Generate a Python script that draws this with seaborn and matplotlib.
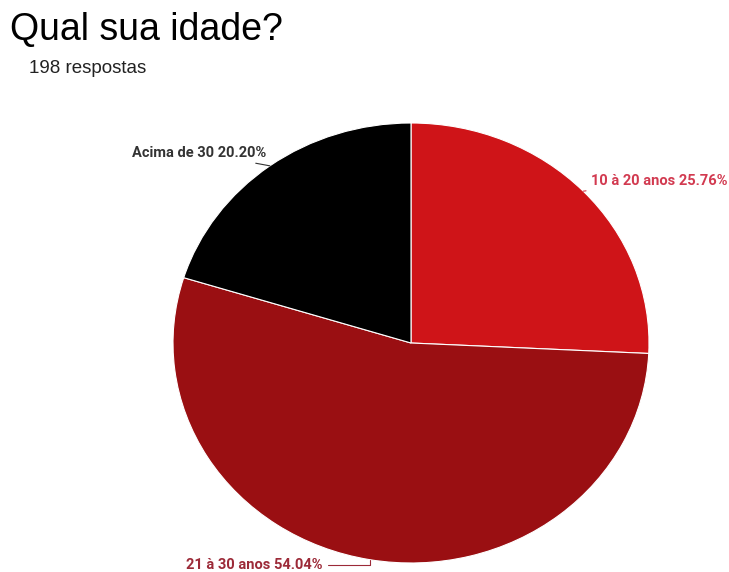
import numpy as np
import matplotlib
matplotlib.use("Agg")
import matplotlib.pyplot as plt
import seaborn as sns

# dados
categorias = ["10 à 20 anos", "21 à 30 anos", "Acima de 30"]
respostas = [51, 107, 40]
cores = ["#cf1418", "#9a0f12", "#000000"]
cores_texto = ["#d23a50", "#9c2a38", "#333333"]
# posição dos rótulos (x, y, alinhamento, conector) em coordenadas do pie
pos_rotulos = [(0.755, 0.735, "left", "arc3"),
               (-0.37, -1.01, "right", "angle,angleA=0,angleB=90,rad=0"),
               (-0.61, 0.865, "right", "arc3")]

sns.set_style("white")
plt.rcParams["font.family"] = ["Liberation Sans", "DejaVu Sans"]

fig = plt.figure(figsize=(7.29, 5.72), dpi=100)
ax = fig.add_axes([173 / 729, 9 / 572, 476 / 729, 440 / 572])

total = sum(respostas)
wedges, _ = ax.pie(respostas, colors=cores, startangle=90, counterclock=False,
                   radius=1.0, wedgeprops=dict(edgecolor="white", linewidth=0.8))
ax.set_aspect("auto")
ax.set_xlim(-1, 1)
ax.set_ylim(-1, 1)
ax.axis("off")

for w, cat, n, cor, (tx, ty, ha, con) in zip(wedges, categorias, respostas, cores_texto, pos_rotulos):
    ang = np.deg2rad((w.theta1 + w.theta2) / 2)
    px, py = np.cos(ang), np.sin(ang)
    label = f"{cat} {100 * n / total:.2f}%"
    ax.annotate(label, xy=(px, py), xytext=(tx, ty), ha=ha, va="center",
                fontsize=10.5, fontweight="bold", color=cor, family=["Roboto", "DejaVu Sans"],
                annotation_clip=False,
                arrowprops=dict(arrowstyle="-", color=cor, lw=0.8, shrinkA=1, shrinkB=0,
                                connectionstyle=con))

fig.text(10 / 729, 1 - 40 / 572, "Qual sua idade?", fontsize=27, color="#000000", va="baseline")
fig.text(29 / 729, 1 - 73 / 572, "198 respostas", fontsize=13.5, color="#222222", va="baseline")

fig.savefig("out.png", dpi=100)
